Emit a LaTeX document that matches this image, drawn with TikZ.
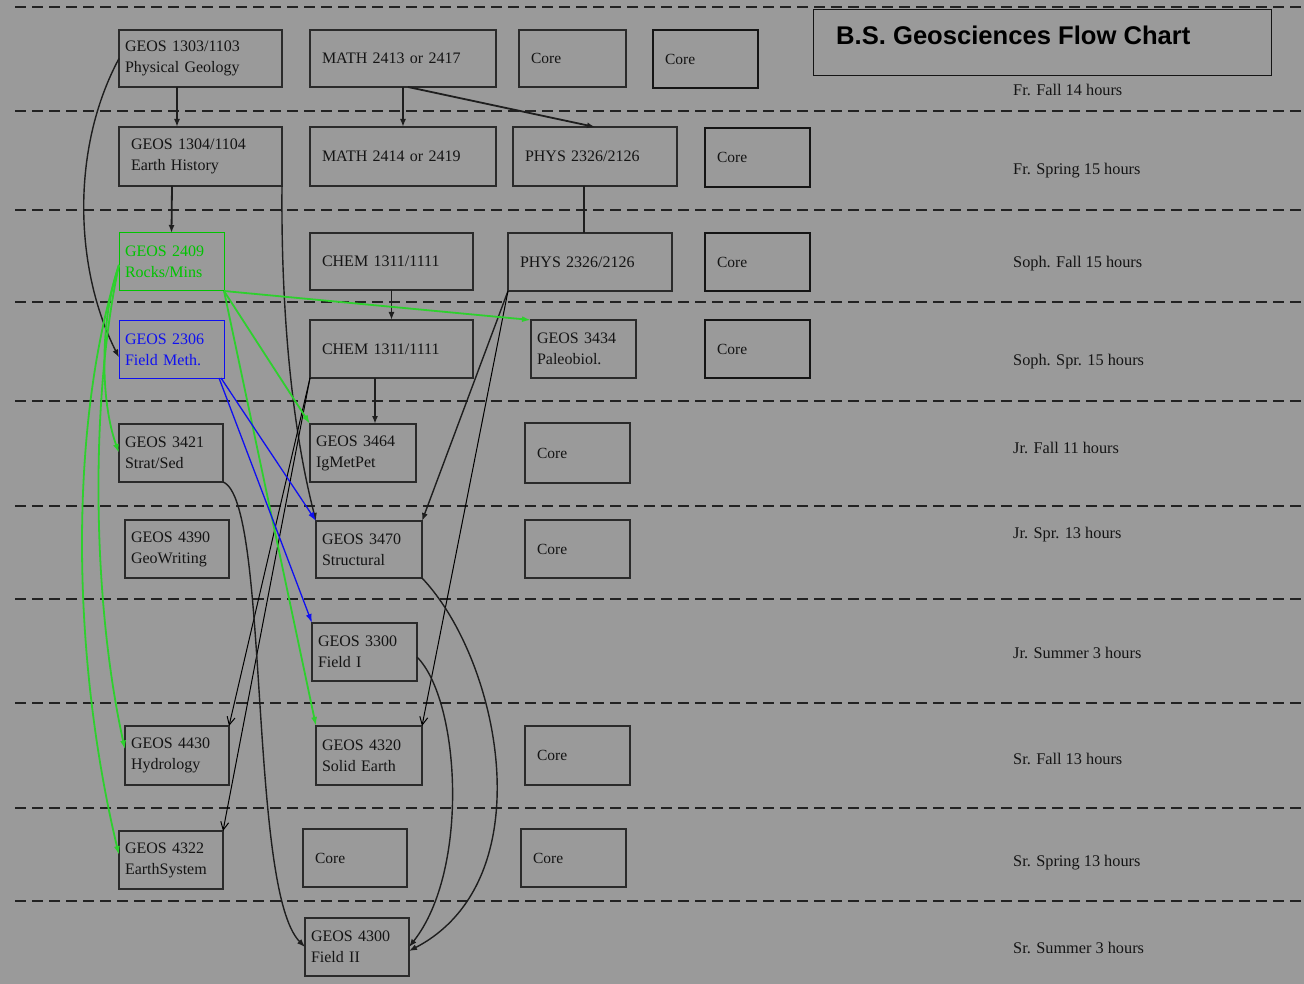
\documentclass[tikz,border=0pt]{standalone}
\usepackage{fontspec}
\setmainfont{Liberation Serif}
\newfontfamily\titlefont{Liberation Sans}
\usetikzlibrary{arrows.meta,calc}
\definecolor{bgc}{HTML}{9A9A9A}
\definecolor{boxc}{HTML}{2A2A2A}
\definecolor{edgec}{HTML}{1E1E1E}
\definecolor{txtc}{HTML}{141414}
\definecolor{grt}{HTML}{00C400}
\definecolor{grl}{HTML}{2ED02E}
\definecolor{blt}{HTML}{1010F0}
\definecolor{dashc}{HTML}{222222}
\tikzset{
  basebox/.style={anchor=north west, inner ysep=0pt, outer sep=0pt, align=left, text=txtc,
    font=\fontsize{16}{21}\selectfont},
  thk/.style={basebox, draw=boxc, line width=2.7pt},
  thn/.style={basebox, draw=txtc, line width=1.1pt},
  grbox/.style={basebox, draw=grt, line width=1pt, text=grt},
  blbox/.style={basebox, draw=blt, line width=1pt, text=blt},
  corefont/.style={font=\fontsize{15.5}{20}\selectfont},
  dashline/.style={draw=dashc, line width=1.5pt, dash pattern=on 11pt off 6pt},
  semlbl/.style={anchor=base west, inner sep=0pt, text=txtc, font=\fontsize{16.3}{20}\selectfont},
  blk/.style={draw=edgec, line width=1.8pt, -{Latex[length=8pt,width=6pt]}},
  plain/.style={draw=edgec, line width=2pt},
  med/.style={draw=edgec, line width=1.4pt, -{Latex[length=8pt,width=6pt]}},
  thinar/.style={draw=black, line width=1pt, -{Straight Barb[length=8pt,width=8pt]}},
  grn/.style={draw=grl, line width=1.8pt, -{Latex[length=9pt,width=6pt]}},
  blu/.style={draw=blt, line width=1.3pt, -{Latex[length=9pt,width=6pt]}}
}
\begin{document}
\begin{tikzpicture}[x=1pt,y=-1pt]
\useasboundingbox (0,0) rectangle (1304,984);
\fill[bgc] (0,0) rectangle (1304,984);
% semester separators
\foreach \yy in {7,111,210,302,401,506,599,703,808,901}
  \draw[dashline] (15,\yy) -- (1304,\yy);
% title
\node[anchor=north west, draw=txtc, line width=1.1pt, minimum width=458, minimum height=66, inner sep=0pt] (titlebox) at (813,9) {};
\node[anchor=base west, inner sep=0pt, text=black, font=\titlefont\bfseries\fontsize{25.6}{30}\selectfont] (titletext) at (836,45) {B.S. Geosciences Flow Chart};
% row 1
\node[thk, minimum width=163, minimum height=57, inner xsep=6, text width=151] (g1303) at (119,30) {GEOS 1303/1103\\Physical Geology};
\node[thk, minimum width=186, minimum height=57, inner xsep=12, text width=162] (math1) at (310,30) {MATH 2413 or 2417};
\node[thk, corefont, minimum width=107, minimum height=57, inner xsep=12, text width=83] (core1a) at (519,30) {Core};
\node[thn, corefont, minimum width=105, minimum height=58, inner xsep=12, text width=81] (core1b) at (653,30) {Core};
% row 2
\node[thk, minimum width=163, minimum height=59, inner xsep=12, text width=139] (g1304) at (119,127) {GEOS 1304/1104\\Earth History};
\node[thk, minimum width=186, minimum height=59, inner xsep=12, text width=162] (math2) at (310,127) {MATH 2414 or 2419};
\node[thk, minimum width=164, minimum height=59, inner xsep=12, text width=140] (phys2) at (513,127) {PHYS 2326/2126};
\node[thn, corefont, minimum width=105, minimum height=59, inner xsep=12, text width=81] (core2) at (705,128) {Core};
% row 3
\node[grbox, minimum width=105, minimum height=58, inner xsep=6, text width=93] (g2409) at (119,233) {GEOS 2409\\Rocks/Mins};
\node[thk, minimum width=163, minimum height=57, inner xsep=12, text width=139] (chem3) at (310,233) {CHEM 1311/1111};
\node[thk, minimum width=164, minimum height=58, inner xsep=12, text width=140] (phys3) at (508,233) {PHYS 2326/2126};
\node[thn, corefont, minimum width=105, minimum height=58, inner xsep=12, text width=81] (core3) at (705,233) {Core};
% row 4
\node[blbox, minimum width=105, minimum height=57, inner xsep=6, text width=93] (g2306) at (119,321) {GEOS 2306\\Field Meth.};
\node[thk, minimum width=163, minimum height=58, inner xsep=12, text width=139] (chem4) at (310,320) {CHEM 1311/1111};
\node[thk, minimum width=105, minimum height=58, inner xsep=6, text width=93] (g3434) at (531,320) {GEOS 3434\\Paleobiol.};
\node[thn, corefont, minimum width=105, minimum height=58, inner xsep=12, text width=81] (core4) at (705,320) {Core};
% row 5
\node[thk, minimum width=104, minimum height=58, inner xsep=6, text width=92] (g3421) at (119,424) {GEOS 3421\\Strat/Sed};
\node[thk, minimum width=106, minimum height=58, inner xsep=6, text width=94] (g3464) at (310,424) {GEOS 3464\\IgMetPet};
\node[thk, corefont, minimum width=105, minimum height=60, inner xsep=12, text width=81] (core5) at (525,423) {Core};
% row 6
\node[thk, minimum width=104, minimum height=58, inner xsep=6, text width=92] (g4390) at (125,520) {GEOS 4390\\GeoWriting};
\node[thk, minimum width=106, minimum height=57, inner xsep=6, text width=94] (g3470) at (316,521) {GEOS 3470\\Structural};
\node[thk, corefont, minimum width=105, minimum height=58, inner xsep=12, text width=81] (core6) at (525,520) {Core};
% row 7
\node[thk, minimum width=105, minimum height=58, inner xsep=6, text width=93] (g3300) at (312,623) {GEOS 3300\\Field I};
% row 8
\node[thk, minimum width=104, minimum height=59, inner xsep=6, text width=92] (g4430) at (125,726) {GEOS 4430\\Hydrology};
\node[thk, minimum width=106, minimum height=59, inner xsep=6, text width=94] (g4320) at (316,726) {GEOS 4320\\Solid Earth};
\node[thk, corefont, minimum width=105, minimum height=59, inner xsep=12, text width=81] (core8) at (525,726) {Core};
% row 9
\node[thk, minimum width=104, minimum height=58, inner xsep=6, text width=92] (g4322) at (119,831) {GEOS 4322\\EarthSystem};
\node[thk, corefont, minimum width=104, minimum height=58, inner xsep=12, text width=80] (core9a) at (303,829) {Core};
\node[thk, corefont, minimum width=105, minimum height=58, inner xsep=12, text width=81] (core9b) at (521,829) {Core};
% row 10
\node[thk, minimum width=104, minimum height=58, inner xsep=6, text width=92] (g4300) at (305,918) {GEOS 4300\\Field II};
% semester labels
\node[semlbl] (s1) at (1013,96) {Fr. Fall 14 hours};
\node[semlbl] (s2) at (1013,175) {Fr. Spring 15 hours};
\node[semlbl] (s3) at (1013,268) {Soph. Fall 15 hours};
\node[semlbl] (s4) at (1013,366) {Soph. Spr. 15 hours};
\node[semlbl] (s5) at (1013,453) {Jr. Fall 11 hours};
\node[semlbl] (s6) at (1013,538) {Jr. Spr. 13 hours};
\node[semlbl] (s7) at (1013,658) {Jr. Summer 3 hours};
\node[semlbl] (s8) at (1013,764) {Sr. Fall 13 hours};
\node[semlbl] (s9) at (1013,866) {Sr. Spring 13 hours};
\node[semlbl] (s10) at (1013,953) {Sr. Summer 3 hours};
% black connectors
\draw[blk] ($(g1303.south west)+(58,0)$) -- ($(g1304.north west)+(58,0)$);
\draw[blk] ($(g1304.south west)+(53,0)$) -- (g2409.north);
\draw[blk] (math1.south) -- (math2.north);
\draw[blk] ($(math1.south)+(5,0)$) -- (phys2.north);
\draw[plain] ($(phys2.south)+(-11,0)$) -- ($(phys3.north)+(-6,0)$);
\draw[blk] (chem3.south) -- (chem4.north);
\draw[blk] ($(chem4.south)+(-16.5,0)$) -- ($(g3464.north)+(12,0)$);
\draw[med] (g1303.west) .. controls (70,150) and (75,270) .. ($(g2306.west)+(0,8)$);
\draw[med] (g1304.south east) .. controls (281,300) and (290,420) .. (g3470.north west);
\draw[med] (phys3.south west) -- (g3470.north east);
\draw[thinar] (phys3.south west) -- (g4320.north east);
\draw[thinar] (chem4.south west) -- (g4430.north east);
\draw[thinar] (chem4.south west) -- (g4322.north east);
\draw[med] (g3421.south east) .. controls (270,500) and (248,890) .. (g4300.west);
\draw[med] ($(g3300.east)+(0,5)$) .. controls (460,700) and (470,870) .. (g4300.east);
\draw[med] (g3470.south east) .. controls (500,660) and (545,880) .. ($(g4300.east)+(0,4)$);
% green connectors
\draw[grn] (g2409.south east) -- (g3434.north west);
\draw[grn] (g2409.south east) -- (g3464.north west);
\draw[grn] (g2409.south east) -- (g4320.north west);
\draw[grn] ($(g2409.west)+(0,3)$) .. controls (100,320) and (100,400) .. (g3421.west);
\draw[grn] ($(g2409.west)+(0,3)$) .. controls (90,400) and (92,600) .. ($(g4430.west)+(0,-6)$);
\draw[grn] ($(g2409.west)+(0,3)$) .. controls (70,420) and (70,650) .. ($(g4322.west)+(0,-5)$);
% blue connectors
\draw[blu] ($(g2306.south east)+(-3,0)$) -- (g3470.north west);
\draw[blu] ($(g2306.south east)+(-5,0)$) -- (g3300.north west);
\end{tikzpicture}
\end{document}
